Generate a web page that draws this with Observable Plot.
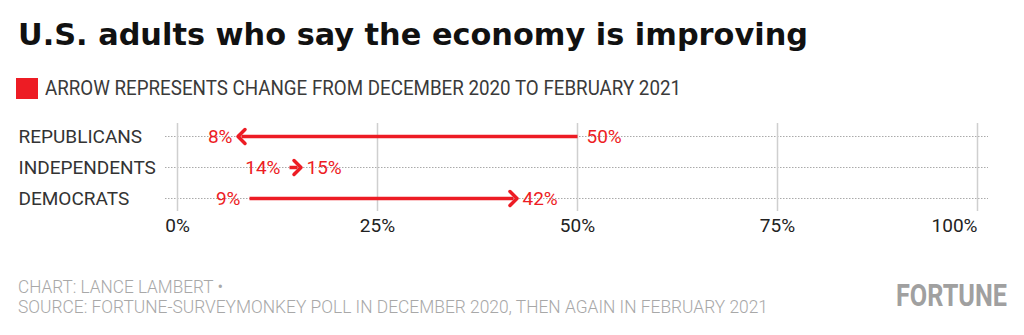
<!DOCTYPE html>
<html><head><meta charset="utf-8">
<script src="https://cdn.jsdelivr.net/npm/d3@7"></script>
<script src="https://cdn.jsdelivr.net/npm/@observablehq/plot@0.6"></script>
<style>
body{margin:0;background:#fff;font-family:Roboto,"Liberation Sans",sans-serif;width:1024px;height:335px;overflow:hidden;position:relative}
.t{position:absolute;white-space:nowrap;line-height:1;transform-origin:left center}
#title{left:18px;top:20px;font-family:"DejaVu Sans",Roboto,sans-serif;font-size:30px;font-weight:700;color:#111}
#legend{left:16px;top:78px;font-size:20px;color:#3a3a3a}
#legend .sw{display:inline-block;width:22px;height:21px;background:#ED1C24;vertical-align:-4px;margin-right:7px}
#chart{position:absolute;left:0;top:110px}
#credit{left:18px;top:278px;font-size:18px;color:#a8a8a8;font-weight:300}
#source{left:18px;top:298px;font-size:18px;color:#a8a8a8;font-weight:300}
#logo{left:896px;top:280px;font-size:31px;font-weight:700;color:#a0a0a0}
</style></head>
<body>
<div class="t" id="title">U.S. adults who say the economy is improving</div>
<div class="t" id="legend"><span class="sw"></span><span id="legtext">ARROW REPRESENTS CHANGE FROM DECEMBER 2020 TO FEBRUARY 2021</span></div>
<div id="chart"></div>
<div class="t" id="credit">CHART: LANCE LAMBERT •</div>
<div class="t" id="source">SOURCE: FORTUNE-SURVEYMONKEY POLL IN DECEMBER 2020, THEN AGAIN IN FEBRUARY 2021</div>
<div class="t" id="logo">FORTUNE</div>
<script>
const groups = ["REPUBLICANS", "INDEPENDENTS", "DEMOCRATS"];
const dec2020 = [50, 14, 9];
const feb2021 = [8, 15, 42];
const xTicks = [0, 25, 50, 75, 100];

const rows = groups.map((g, i) => ({group: g, from: dec2020[i], to: feb2021[i]}));
const red = "#ED1C24";
const pct = d => d + "%";

const chart = Plot.plot({
  width: 1024,
  height: 131,
  marginLeft: 165,
  marginRight: 36,
  marginTop: 13,
  marginBottom: 30,
  insetLeft: 12,
  insetRight: 11,
  x: {domain: [0, 100], ticks: xTicks, tickFormat: pct, label: null},
  y: {type: "point", domain: groups, padding: 0.4, label: null},
  style: {fontFamily: "Roboto, 'Liberation Sans', sans-serif", fontSize: "19px", color: "#222", background: "transparent"},
  marks: [
    Plot.gridY({stroke: "#aaa", strokeOpacity: 1, strokeWidth: 1, strokeDasharray: "1.5,1.5"}),
    Plot.gridX({ticks: xTicks, stroke: "#cfcfcf", strokeOpacity: 1, strokeWidth: 1.5}),
    Plot.axisX({ticks: xTicks.slice(0, -1), tickFormat: pct, tickSize: 0, tickPadding: 7, fill: "#222", fontSize: 19, label: null}),
    Plot.axisX({ticks: xTicks.slice(-1), tickFormat: pct, tickSize: 0, tickPadding: 7, textAnchor: "end", fill: "#222", fontSize: 19, label: null}),
    Plot.axisY({tickSize: 0, tickPadding: 0, textAnchor: "start", dx: -147, fill: "#333", fontSize: 19, label: null}),
    Plot.link(rows, {x1: "from", x2: "to", y1: "group", y2: "group", stroke: red, strokeWidth: 3.5, markerEnd: "arrow"}),
    Plot.text(rows, {x: d => Math.min(d.from, d.to), y: "group", text: d => pct(Math.min(d.from, d.to)), textAnchor: "end", dx: -9, fill: red, fontSize: 19}),
    Plot.text(rows, {x: d => Math.max(d.from, d.to), y: "group", text: d => pct(Math.max(d.from, d.to)), textAnchor: "start", dx: 9, fill: red, fontSize: 19})
  ]
});
document.getElementById("chart").appendChild(chart);

// fit text widths to the reference layout
function fit(id, w) {
  const el = document.getElementById(id);
  const cur = el.getBoundingClientRect().width;
  if (cur > 0) el.style.transform = `scaleX(${w / cur})`;
}
fit("title", 790);
fit("source", 750);
fit("credit", 205);
fit("logo", 111);
(function () {
  const el = document.getElementById("legtext");
  el.style.display = "inline-block";
  el.style.transformOrigin = "left center";
  const cur = el.getBoundingClientRect().width;
  if (cur > 0) el.style.transform = `scaleX(${636 / cur})`;
})();
</script>
</body></html>
